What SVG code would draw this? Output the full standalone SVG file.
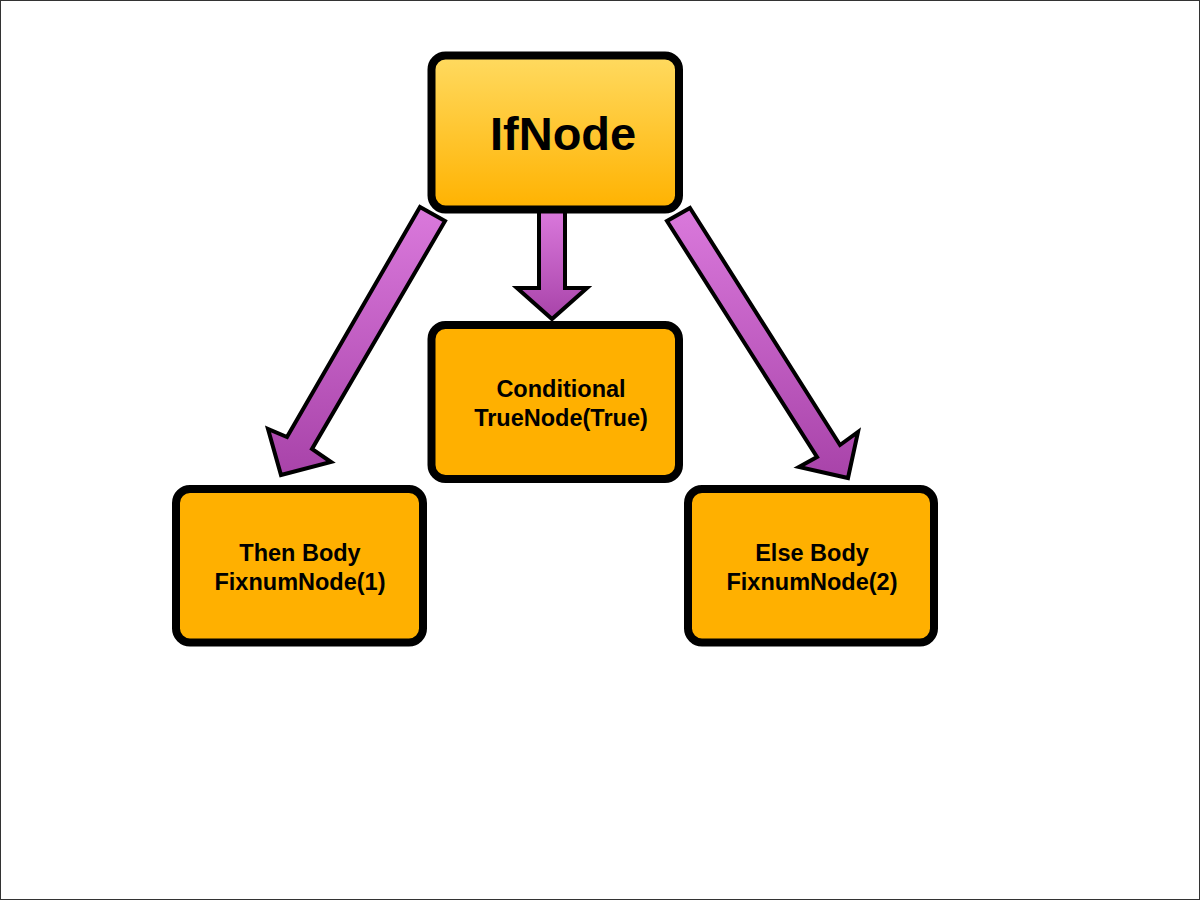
<svg xmlns="http://www.w3.org/2000/svg" width="1200" height="900" viewBox="0 0 1200 900">
<defs>
<linearGradient id="gold" x1="0" y1="0" x2="0" y2="1">
<stop offset="0" stop-color="#FFDA60"/>
<stop offset="1" stop-color="#FFB200"/>
</linearGradient>
<linearGradient id="purple" x1="0" y1="0" x2="0" y2="1">
<stop offset="0" stop-color="#DA79DC"/>
<stop offset="1" stop-color="#A843A9"/>
</linearGradient>
<style>
.box{fill:#FFB000;stroke:#000;stroke-width:8}
.arrow{fill:url(#purple);stroke:#000;stroke-width:4;stroke-linejoin:miter}
.lbl{font-family:"Liberation Sans",Arial,sans-serif;font-weight:bold;font-size:23.5px;fill:#000;text-anchor:middle}
</style>
</defs>
<rect x="0.5" y="0.5" width="1199" height="899" fill="#fff" stroke="#333" stroke-width="1"/>
<g id="connectors">
<polygon class="arrow" points="420,207 445,221 312,449 331,462 281,475 268,429 287,437"/>
<polygon class="arrow" points="539,210 565,210 565,288 587,288 552,319 517,288 539,288"/>
<polygon class="arrow" points="690,208 840,445 858,432 848,478 799,467 817,457 667,221"/>
</g>
<g id="ifnode">
<rect x="431.5" y="55.5" width="247.5" height="154" rx="14" fill="url(#gold)" stroke="#000" stroke-width="8"/>
<text x="490" y="150" font-family="Liberation Sans,Arial,sans-serif" font-weight="bold" font-size="47" fill="#000">IfNode</text>
</g>
<g id="conditional">
<rect class="box" x="431.5" y="325" width="247.5" height="154" rx="14"/>
<text class="lbl" x="561" y="397">Conditional</text>
<text class="lbl" x="561" y="426">TrueNode(True)</text>
</g>
<g id="then">
<rect class="box" x="176" y="489" width="247" height="153.5" rx="14"/>
<text class="lbl" x="300" y="561">Then Body</text>
<text class="lbl" x="300" y="590">FixnumNode(1)</text>
</g>
<g id="else">
<rect class="box" x="688" y="489" width="246" height="153.5" rx="14"/>
<text class="lbl" x="812" y="561">Else Body</text>
<text class="lbl" x="812" y="590">FixnumNode(2)</text>
</g>
</svg>
